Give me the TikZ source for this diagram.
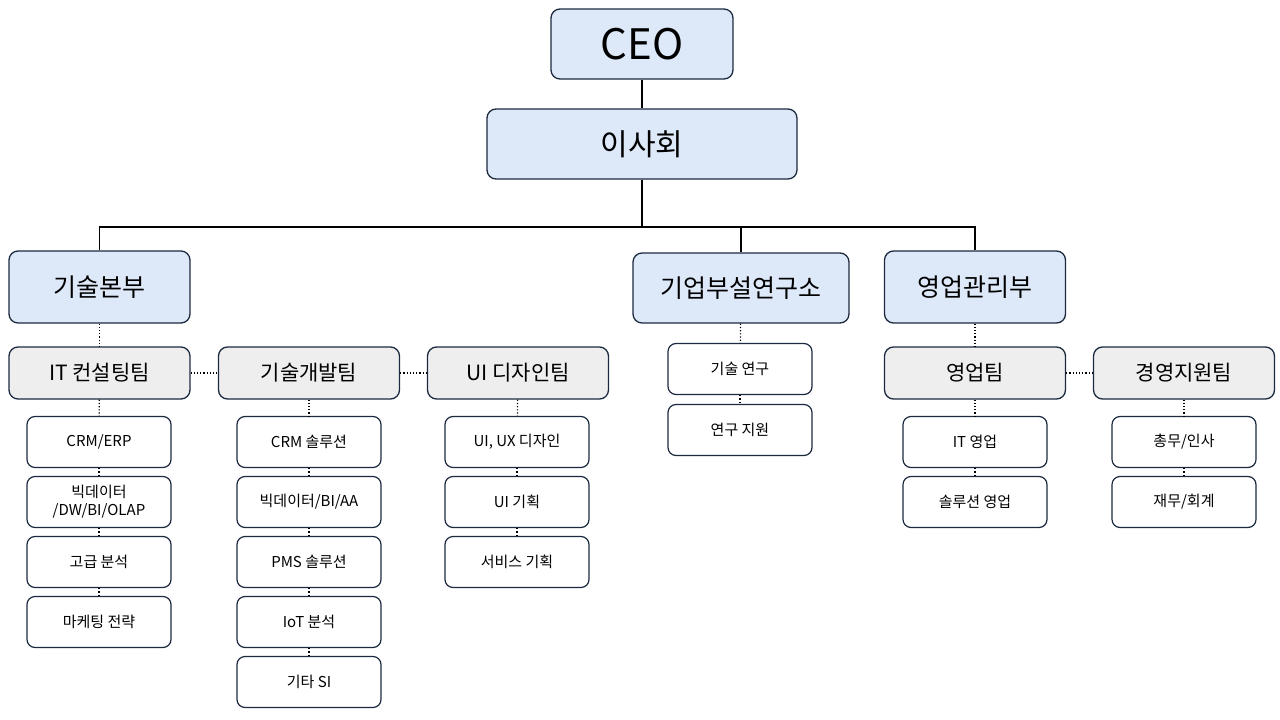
\documentclass[tikz,border=0pt]{standalone}
\usepackage{fontspec}
\setmainfont{Noto Sans CJK KR}
\usetikzlibrary{positioning}
\definecolor{topblue}{HTML}{DDE8F8}
\definecolor{teamgray}{HTML}{EEEEEE}
\definecolor{navy}{HTML}{1C2A3F}

\begin{document}
\begin{tikzpicture}[
  x=1pt, y=-1pt,
  top/.style={draw=navy, line width=1.3pt, rounded corners=9pt, fill=topblue, align=center, inner sep=0pt},
  team/.style={draw=navy, line width=1.3pt, rounded corners=9pt, fill=teamgray, minimum width=181pt, minimum height=52pt, inner sep=0pt, font=\fontsize{21}{24}\selectfont},
  leaf/.style={draw=navy, line width=1.2pt, rounded corners=8pt, fill=white, minimum width=144pt, minimum height=51pt, inner sep=0pt, align=center, font=\fontsize{15}{18}\selectfont},
  solidline/.style={line width=1.3pt, draw=black},
  dotline/.style={line width=1.2pt, dotted}
]
\useasboundingbox (0,0) rectangle (1280,720);

% Top level
\node[top, minimum width=182pt, minimum height=70pt, font=\fontsize{42}{46}\selectfont] (ceo) at (642,44) {CEO};
\node[top, minimum width=310pt, minimum height=70pt, font=\fontsize{30}{34}\selectfont] (board) at (642,144) {이사회};

% Departments
\node[top, minimum width=181pt, minimum height=72pt, font=\fontsize{25}{28}\selectfont] (tech) at (99.5,287) {기술본부};
\node[top, minimum width=216pt, minimum height=70pt, font=\fontsize{25}{28}\selectfont] (lab) at (741,288) {기업부설연구소};
\node[top, minimum width=181pt, minimum height=72pt, font=\fontsize{25}{28}\selectfont] (sales) at (975,287) {영업관리부};

% Teams
\node[team] (itc) at (99.5,373) {IT 컨설팅팀};
\node[team] (dev) at (309,373) {기술개발팀};
\node[team] (uid) at (518,373) {UI 디자인팀};
\node[team] (biz) at (975,373) {영업팀};
\node[team] (mgmt) at (1184,373) {경영지원팀};

% Leaves
\node[leaf] (itc1) at (99,442) {CRM/ERP};
\node[leaf] (itc2) at (99,502) {빅데이터\\/DW/BI/OLAP};
\node[leaf] (itc3) at (99,562) {고급 분석};
\node[leaf] (itc4) at (99,622) {마케팅 전략};
\node[leaf] (dev1) at (309,442) {CRM 솔루션};
\node[leaf] (dev2) at (309,502) {빅데이터/BI/AA};
\node[leaf] (dev3) at (309,562) {PMS 솔루션};
\node[leaf] (dev4) at (309,622) {IoT 분석};
\node[leaf] (dev5) at (309,682) {기타 SI};
\node[leaf] (uid1) at (517,442) {UI, UX 디자인};
\node[leaf] (uid2) at (517,502) {UI 기획};
\node[leaf] (uid3) at (517,562) {서비스 기획};
\node[leaf] (lab1) at (740,369) {기술 연구};
\node[leaf] (lab2) at (740,430) {연구 지원};
\node[leaf] (biz1) at (975,442) {IT 영업};
\node[leaf] (biz2) at (975,502) {솔루션 영업};
\node[leaf] (mgmt1) at (1184,442) {총무/인사};
\node[leaf] (mgmt2) at (1184,502) {재무/회계};

% Solid connectors
\coordinate (split) at (642,227);
\draw[solidline] (ceo) -- (board);
\draw[solidline] (board) -- (split);
\draw[solidline] (tech.north) |- (split) -| (sales.north);
\draw[solidline] (lab.north) -- (lab.north |- split);

% Dotted connectors
\draw[dotline] (tech) -- (itc);
\draw[dotline] (lab) -- (lab1);
\draw[dotline] (sales) -- (biz);
\draw[dotline] (itc) -- (dev);
\draw[dotline] (dev) -- (uid);
\draw[dotline] (biz) -- (mgmt);
\foreach \a/\b in {itc/itc1, itc1/itc2, itc2/itc3, itc3/itc4,
                   dev/dev1, dev1/dev2, dev2/dev3, dev3/dev4, dev4/dev5,
                   uid/uid1, uid1/uid2, uid2/uid3, lab1/lab2,
                   biz/biz1, biz1/biz2, mgmt/mgmt1, mgmt1/mgmt2}
  \draw[dotline] (\a) -- (\b);

\end{tikzpicture}
\end{document}
